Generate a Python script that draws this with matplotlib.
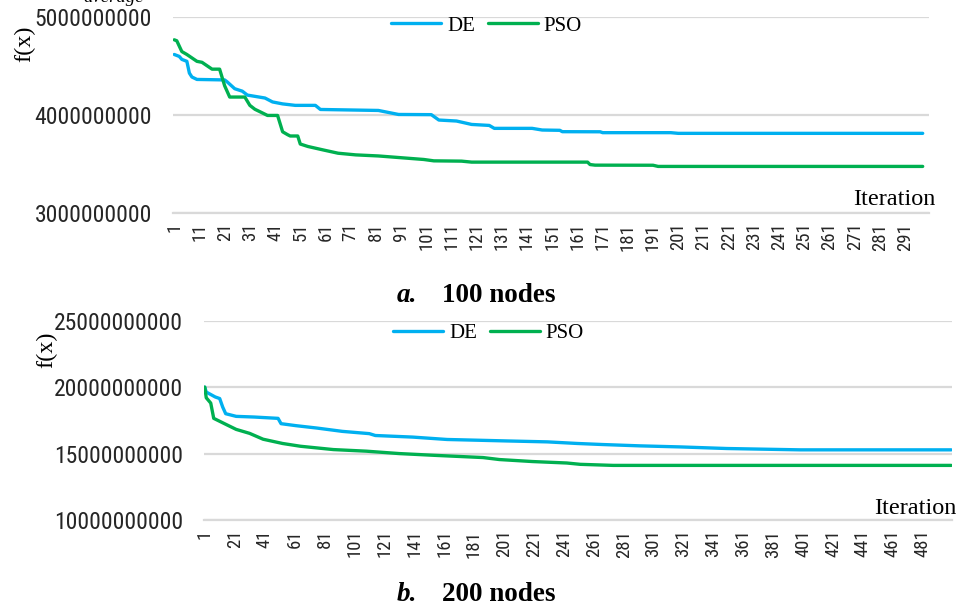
import matplotlib
matplotlib.use("Agg")
import matplotlib.pyplot as plt
from matplotlib import font_manager as fm

# ---------------- data ----------------
# Panel a: 100 nodes (polyline vertices: iteration, f(x))
a_de_iter = [1, 3, 4, 6, 7, 8, 10, 21, 22, 25, 28, 30, 37, 40, 44, 49, 57, 59, 82, 90,
             103, 106, 113, 119, 126, 128, 143, 147, 154, 155, 170, 171, 198, 201, 298]
a_de_val = [4.62e9, 4.60e9, 4.57e9, 4.55e9, 4.43e9, 4.39e9, 4.365e9, 4.36e9, 4.34e9, 4.27e9,
            4.245e9, 4.205e9, 4.175e9, 4.135e9, 4.115e9, 4.10e9, 4.10e9, 4.058e9, 4.048e9, 4.007e9,
            4.005e9, 3.95e9, 3.94e9, 3.905e9, 3.895e9, 3.865e9, 3.865e9, 3.848e9, 3.845e9, 3.831e9,
            3.83e9, 3.821e9, 3.821e9, 3.814e9, 3.814e9]
a_pso_iter = [1, 2, 4, 6, 8, 10, 12, 14, 16, 19, 21, 23, 29, 31, 33, 35, 38, 42, 44, 46,
              47, 50, 51, 54, 60, 66, 73, 82, 90, 100, 104, 115, 119, 165, 166, 168, 191, 193, 298]
a_pso_val = [4.77e9, 4.76e9, 4.65e9, 4.62e9, 4.585e9, 4.55e9, 4.54e9, 4.505e9, 4.47e9, 4.47e9,
             4.30e9, 4.185e9, 4.185e9, 4.10e9, 4.06e9, 4.035e9, 3.997e9, 3.997e9, 3.83e9, 3.80e9,
             3.787e9, 3.787e9, 3.705e9, 3.68e9, 3.645e9, 3.611e9, 3.594e9, 3.583e9, 3.567e9, 3.547e9,
             3.533e9, 3.53e9, 3.52e9, 3.52e9, 3.495e9, 3.489e9, 3.488e9, 3.476e9, 3.476e9]
a_n_cat = 300
a_yticks = [3000000000, 4000000000, 5000000000]

# Panel b: 200 nodes
b_de_iter = [1, 2, 8, 11, 13, 15, 22, 34, 50, 52, 62, 76, 93, 111, 115, 140, 163, 185, 203,
             230, 250, 267, 292, 319, 350, 399, 500]
b_de_val = [2.0e10, 1.963e10, 1.926e10, 1.914e10, 1.85e10, 1.80e10, 1.78e10, 1.775e10, 1.765e10,
            1.725e10, 1.71e10, 1.692e10, 1.667e10, 1.65e10, 1.636e10, 1.624e10, 1.606e10, 1.60e10,
            1.595e10, 1.588e10, 1.576e10, 1.568e10, 1.558e10, 1.55e10, 1.538e10, 1.528e10, 1.528e10]
b_pso_iter = [1, 2, 5, 7, 16, 22, 31, 40, 53, 65, 87, 109, 131, 154, 187, 198, 220, 243, 252, 274, 500]
b_pso_val = [2.0e10, 1.92e10, 1.88e10, 1.765e10, 1.715e10, 1.682e10, 1.652e10, 1.608e10, 1.576e10,
             1.555e10, 1.53e10, 1.518e10, 1.50e10, 1.487e10, 1.47e10, 1.455e10, 1.44e10, 1.429e10,
             1.419e10, 1.411e10, 1.411e10]
b_n_cat = 500
b_yticks = [10000000000, 15000000000, 20000000000, 25000000000]

series_names = ["DE", "PSO"]
captions = [("a.", "100 nodes"), ("b.", "200 nodes")]

# ---------------- style ----------------
W, H = 959, 606
DE_C = "#00b0f0"
PSO_C = "#00b050"
GRID_C = "#d9d9d9"
SERIF = ["Liberation Serif", "DejaVu Serif"]

# look for a narrow sans face (Arial Narrow look-alike); otherwise Liberation Sans, smaller
narrow_path = None
for f in fm.fontManager.ttflist:
    nm = (f.name + " " + f.fname).lower()
    if ("narrow" in nm or "condensed" in nm) and "bold" not in nm and "oblique" not in nm \
            and "italic" not in nm and "serif" not in nm and "mono" not in nm:
        narrow_path = f.fname
        if "liberation" in nm:
            break

if narrow_path:
    def tick_fp(size):
        return fm.FontProperties(fname=narrow_path, size=size)
    Y_TS, X_TS = 17.0, 13.5
else:
    def tick_fp(size):
        return fm.FontProperties(family=["Liberation Sans", "DejaVu Sans"], size=size)
    Y_TS, X_TS = 14.2, 11.2

fig = plt.figure(figsize=(W / 100, H / 100), dpi=100)


def fx(x):
    return x / W


def fy(y):
    return 1 - y / H


def make_panel(rect_px, n_cat, step, yticks, de_i, de_v, pso_i, pso_v,
               legend_xy, flab_xy, iter_xy):
    l, t, r, b = rect_px
    ax = fig.add_axes([fx(l), fy(b), (r - l) / W, (b - t) / H])
    ax.plot(de_i, de_v, color=DE_C, lw=2.4, solid_capstyle="round",
            solid_joinstyle="round", label=series_names[0], zorder=3)
    ax.plot(pso_i, pso_v, color=PSO_C, lw=2.4, solid_capstyle="round",
            solid_joinstyle="round", label=series_names[1], zorder=3)
    ax.set_xlim(0.5, n_cat + 0.5)
    ax.set_ylim(yticks[0], yticks[-1])
    ax.set_yticks(yticks)
    ax.set_yticklabels([str(v) for v in yticks], fontproperties=tick_fp(Y_TS),
                       color="#262626")
    xt = list(range(1, n_cat + 1, step))
    ax.set_xticks(xt)
    ax.set_xticklabels([str(v) for v in xt], rotation=90, fontproperties=tick_fp(X_TS),
                       color="#262626", va="top", ha="center")
    ax.tick_params(axis="both", length=0)
    ax.tick_params(axis="y", pad=15)
    ax.tick_params(axis="x", pad=7)
    for s in ["top", "right", "left"]:
        ax.spines[s].set_visible(False)
    ax.spines["bottom"].set_color(GRID_C)
    ax.spines["bottom"].set_linewidth(1.6)
    ax.grid(axis="y", color=GRID_C, lw=1.6)
    ax.set_axisbelow(True)
    ax.set_facecolor("none")

    fig.legend(handles=ax.get_lines(), labels=series_names, loc="center",
               bbox_to_anchor=(fx(legend_xy[0]), fy(legend_xy[1])), ncol=2,
               frameon=False, prop={"family": SERIF, "size": 15},
               handlelength=2.4, handletextpad=0.3, columnspacing=0.6,
               borderaxespad=0, borderpad=0)
    fig.text(fx(flab_xy[0]), fy(flab_xy[1]), "f(x)", rotation=90, ha="center",
             va="center", family=SERIF, fontsize=17.5, color="black")
    fig.text(fx(iter_xy[0]), fy(iter_xy[1]), "Iteration", ha="right",
             va="baseline", family=SERIF, fontsize=17.5, color="black")
    return ax


make_panel((173, 17.3, 929, 213), a_n_cat, 10, a_yticks,
           a_de_iter, a_de_val, a_pso_iter, a_pso_val,
           legend_xy=(486.5, 26), flab_xy=(25, 43.5), iter_xy=(936, 205))
make_panel((204, 320.7, 952, 520), b_n_cat, 20, b_yticks,
           b_de_iter, b_de_val, b_pso_iter, b_pso_val,
           legend_xy=(488.5, 333), flab_xy=(47, 350), iter_xy=(957, 514))

# captions
for (lab, txt), yb in zip(captions, [301.5, 601]):
    fig.text(fx(397), fy(yb), lab, ha="left", va="baseline", family=SERIF,
             fontsize=19.5, fontweight="bold", fontstyle="italic")
    fig.text(fx(441.7), fy(yb), txt, ha="left", va="baseline", family=SERIF,
             fontsize=19.5, fontweight="bold")

# partially cropped text at the very top of the reference
fig.text(fx(83), fy(1.5), "average", ha="left", va="baseline", family=SERIF,
         fontsize=13.5, fontstyle="italic")

fig.savefig("out.png", dpi=100)
